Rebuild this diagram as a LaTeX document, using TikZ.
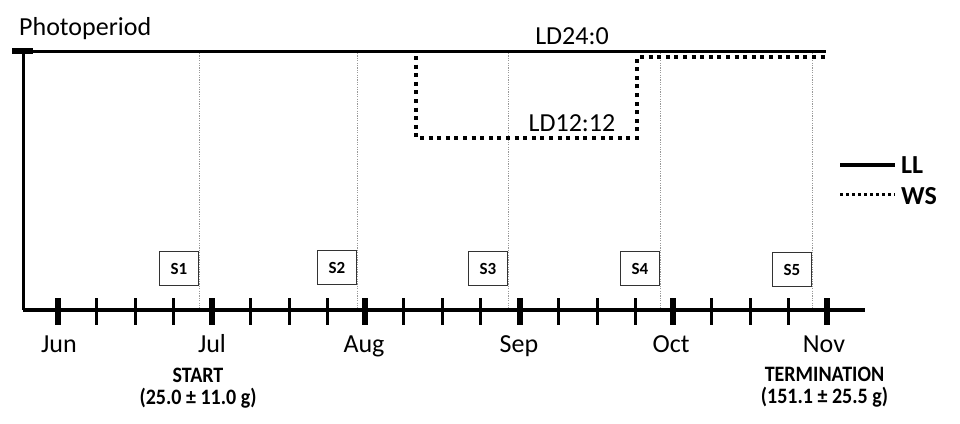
\documentclass[tikz,border=0pt]{standalone}
\usepackage{fontspec}
\usepackage{graphicx}
\setmainfont{Carlito}
\newcommand{\tallbox}[1]{\scalebox{1}[1.1]{#1}}
\begin{document}
\begin{tikzpicture}[x=1pt,y=-1pt,
  lbl/.style={font=\fontsize{26}{28}\selectfont, inner sep=0pt, anchor=base},
  blbl/.style={font=\fontsize{20}{22}\selectfont\bfseries, inner sep=0pt, anchor=base},
  leg/.style={font=\fontsize{26}{28}\selectfont\bfseries, inner sep=0pt, anchor=base west},
  sbox/.style={draw=black!80, line width=1.1pt, minimum width=39pt, minimum height=34pt, inner sep=0pt, font=\fontsize{17}{19}\selectfont\bfseries},
  guide/.style={draw=black!40, line width=0.8pt, dash pattern=on 1.2pt off 1.2pt},
  wsline/.style={line width=4pt, dash pattern=on 4pt off 4.6pt},
  majtick/.style={line width=6pt},
  mintick/.style={line width=3pt}]
\useasboundingbox (0,0) rectangle (960,423);
\fill[white] (0,0) rectangle (960,423);

% frame coordinates
\coordinate (capL) at (12,51);
\coordinate (capR) at (33,51);
\coordinate (topO) at (23,51);
\coordinate (topE) at (826,51);
\coordinate (orig) at (23,310);
\coordinate (axE) at (865,310);

% guides (gray dotted verticals)
\foreach \gx [count=\i] in {199,357,508,660,812}{
  \coordinate (g\i t) at (\gx,53);
  \coordinate (g\i b) at (\gx,308);
  \draw[guide] (g\i t) -- (g\i b);
}

% WS path
\coordinate (w1) at (416,56);
\coordinate (w2) at (416,138);
\coordinate (w3) at (637,138);
\coordinate (w4) at (637,57);
\coordinate (w5) at (827,57);
\draw[wsline] (w1) -- (w2) -- (w3) -- (w4) -- (w5);

% main lines
\draw[line width=3pt] (capR) -- (topE);
\draw[line width=5.5pt] (capL) -- (capR);
\draw[line width=3pt] (topO) -- (orig);
\draw[line width=4pt] (orig) -- (axE);

% ticks
\foreach \mx in {58,212,365,520,673,827}{
  \draw[majtick] (\mx,298) -- (\mx,325);
}
\foreach \mx in {58,212,365,520,673}{
  \foreach \k in {1,2,3}{
    \draw[mintick] ({\mx+\k*38.6},298) -- ({\mx+\k*38.6},325);
  }
}

% sample boxes
\node[sbox, anchor=north east] (s1) at (199,251) {S1};
\node[sbox, anchor=north east] (s2) at (357,250) {S2};
\node[sbox, anchor=north east] (s3) at (508,251) {S3};
\node[sbox, anchor=north east] (s4) at (660,251) {S4};
\node[sbox, anchor=north east] (s5) at (812,252) {S5};

% texts
\node[lbl, anchor=base west] (photo) at (19,35) {Photoperiod};
\node[lbl] (ld24) at (572,44) {LD24:0};
\node[lbl] (ld12) at (572,131) {LD12:12};

\node[lbl] (mjun) at (59,352) {Jun};
\node[lbl] (mjul) at (212,352) {Jul};
\node[lbl] (maug) at (364,352) {Aug};
\node[lbl] (msep) at (519,352) {Sep};
\node[lbl] (moct) at (671,352) {Oct};
\node[lbl] (mnov) at (824,352) {Nov};

\node[blbl] (start) at (198,382) {\tallbox{START}};
\node[blbl] (startw) at (198,404) {\tallbox{(25.0 ± 11.0 g)}};
\node[blbl] (term) at (824.5,381) {\tallbox{TERMINATION}};
\node[blbl] (termw) at (824.5,403) {\tallbox{(151.1 ± 25.5 g)}};

% legend
\coordinate (llA) at (840,165);
\coordinate (llB) at (895,165);
\coordinate (wsA) at (840,194);
\coordinate (wsB) at (895,194);
\draw[line width=3.5pt] (llA) -- (llB);
\draw[line width=3pt, dash pattern=on 3pt off 3pt] (wsA) -- (wsB);
\node[leg] (ll) at (901,173) {LL};
\node[leg] (ws) at (901,204) {WS};
\end{tikzpicture}
\end{document}
